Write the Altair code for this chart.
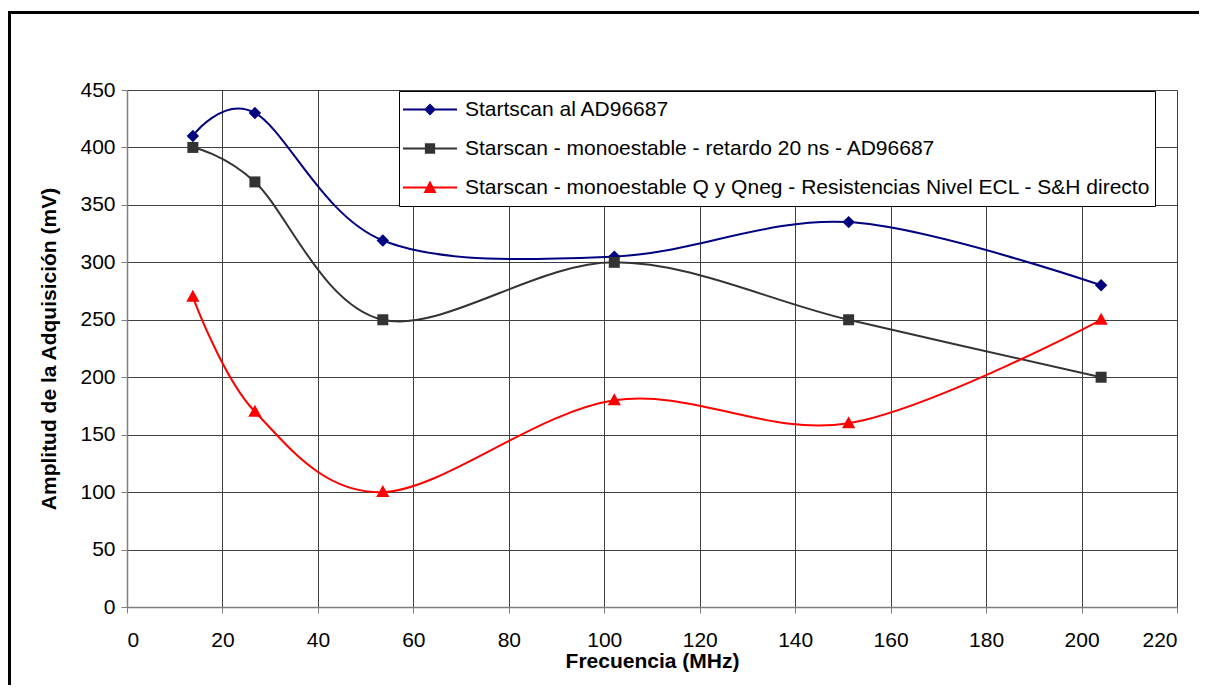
import altair as alt
import pandas as pd

# ---- data ----
freq = [13.8, 26.8, 53.6, 102.1, 151.2, 204.1]
serie_1 = [410, 430, 319, 305, 335, 280]
serie_2 = [400, 370, 250, 300, 250, 200]
serie_3 = [270, 170, 100, 180, 160, 250]
names = [
    "Startscan al AD96687",
    "Starscan - monoestable - retardo 20 ns - AD96687",
    "Starscan - monoestable Q y Qneg - Resistencias Nivel ECL - S&H directo",
]
x_ticks = [0, 20, 40, 60, 80, 100, 120, 140, 160, 180, 200, 220]
y_ticks = [0, 50, 100, 150, 200, 250, 300, 350, 400, 450]

# ---- styles ----
colors = ["#000080", "#333333", "#FF0000"]
# plot markers as paths in a [-1,1] box drawn at size 400 (20px box)
marker_paths = [
    "M0,-0.62L0.62,0L0,0.62L-0.62,0Z",
    "M-0.55,-0.55L0.55,-0.55L0.55,0.55L-0.55,0.55Z",
    "M0,-0.7L0.66,0.5L-0.66,0.5Z",
]
# legend glyphs: a 2px bar (as filled rectangle) + marker, in a [-1,1] box of 54px
legend_paths = [
    "M-1,-0.037L1,-0.037L1,0.037L-1,0.037Z"
    "M0,-0.22L0.22,0L0,0.22L-0.22,0Z",
    "M-1,-0.037L1,-0.037L1,0.037L-1,0.037Z"
    "M-0.19,-0.19L0.19,-0.19L0.19,0.19L-0.19,0.19Z",
    "M-1,-0.037L1,-0.037L1,0.037L-1,0.037Z"
    "M0,-0.26L0.24,0.2L-0.24,0.2Z",
]
FONT = "Liberation Sans"

rows = []
for name, vals in zip(names, [serie_1, serie_2, serie_3]):
    for f, v in zip(freq, vals):
        rows.append({"serie": name, "freq": f, "amp": v})
df = pd.DataFrame(rows)

x_enc = alt.X(
    "freq:Q",
    scale=alt.Scale(domain=[0, 220], nice=False, zero=False),
    axis=alt.Axis(values=x_ticks, title="Frecuencia (MHz)", format="d"),
)
y_enc = alt.Y(
    "amp:Q",
    scale=alt.Scale(domain=[0, 450], nice=False),
    axis=alt.Axis(values=y_ticks, title="Amplitud de la Adquisición (mV)", format="d"),
)


def color_scale():
    return alt.Scale(domain=names, range=colors)


base = alt.Chart(df)

lines = base.mark_line(interpolate="cardinal", tension=0, strokeWidth=2).encode(
    x=x_enc,
    y=y_enc,
    color=alt.Color("serie:N", scale=color_scale(), legend=None),
)

points = base.mark_point(filled=True, opacity=1, size=400, strokeWidth=0).encode(
    x="freq:Q",
    y="amp:Q",
    color=alt.Color("serie:N", scale=color_scale(), legend=None),
    shape=alt.Shape("serie:N", scale=alt.Scale(domain=names, range=marker_paths), legend=None),
)

leg = alt.Legend(
    title=None,
    orient="none",
    legendX=272,
    legendY=1,
    strokeColor="black",
    fillColor="white",
    padding=4,
    labelFont=FONT,
    labelFontSize=21,
    labelColor="black",
    labelLimit=1000,
    labelOffset=8,
    clipHeight=29,
    rowPadding=10,
    symbolSize=2916,
    symbolStrokeWidth=0,
    symbolOpacity=1,
)

# legend-only layer: its marks are filtered out, the legend comes from the explicit scale domain
legend_layer = (
    base.transform_filter("false")
    .mark_point(filled=True, opacity=1, strokeWidth=0)
    .encode(
        x="freq:Q",
        y="amp:Q",
        color=alt.Color("serie:N", scale=color_scale(), legend=leg),
        shape=alt.Shape("serie:N", scale=alt.Scale(domain=names, range=legend_paths), legend=leg),
    )
)

frame = alt.Chart(pd.DataFrame({"k": [0]})).mark_rect(
    fillOpacity=0, stroke="black", strokeWidth=3
).encode(
    x=alt.value(-117.5), x2=alt.value(1200), y=alt.value(-77.5), y2=alt.value(700)
)

chart = (
    alt.layer(frame, lines, points, legend_layer)
    .resolve_scale(shape="independent", color="independent")
    .properties(
        width=1050,
        height=517,
        autosize=alt.AutoSizeParams(type="none"),
        padding={"left": 119, "top": 82, "right": 22, "bottom": 78},
    )
    .configure_view(stroke=None)
    .configure_axis(
        labelFont=FONT,
        labelFontSize=21,
        labelColor="black",
        titleFont=FONT,
        titleFontSize=21,
        titleFontWeight="bold",
        titleColor="black",
        grid=True,
        gridColor="#404040",
        gridWidth=1,
        gridOpacity=1,
        domainColor="#808080",
        domainWidth=1.5,
        tickColor="#808080",
        tickSize=6,
    )
    .configure_axisX(labelPadding=16, titlePadding=0)
    .configure_axisY(labelPadding=6, titlePadding=20)
)

chart.save("out.html", embed_options={"renderer": "svg", "actions": False})
